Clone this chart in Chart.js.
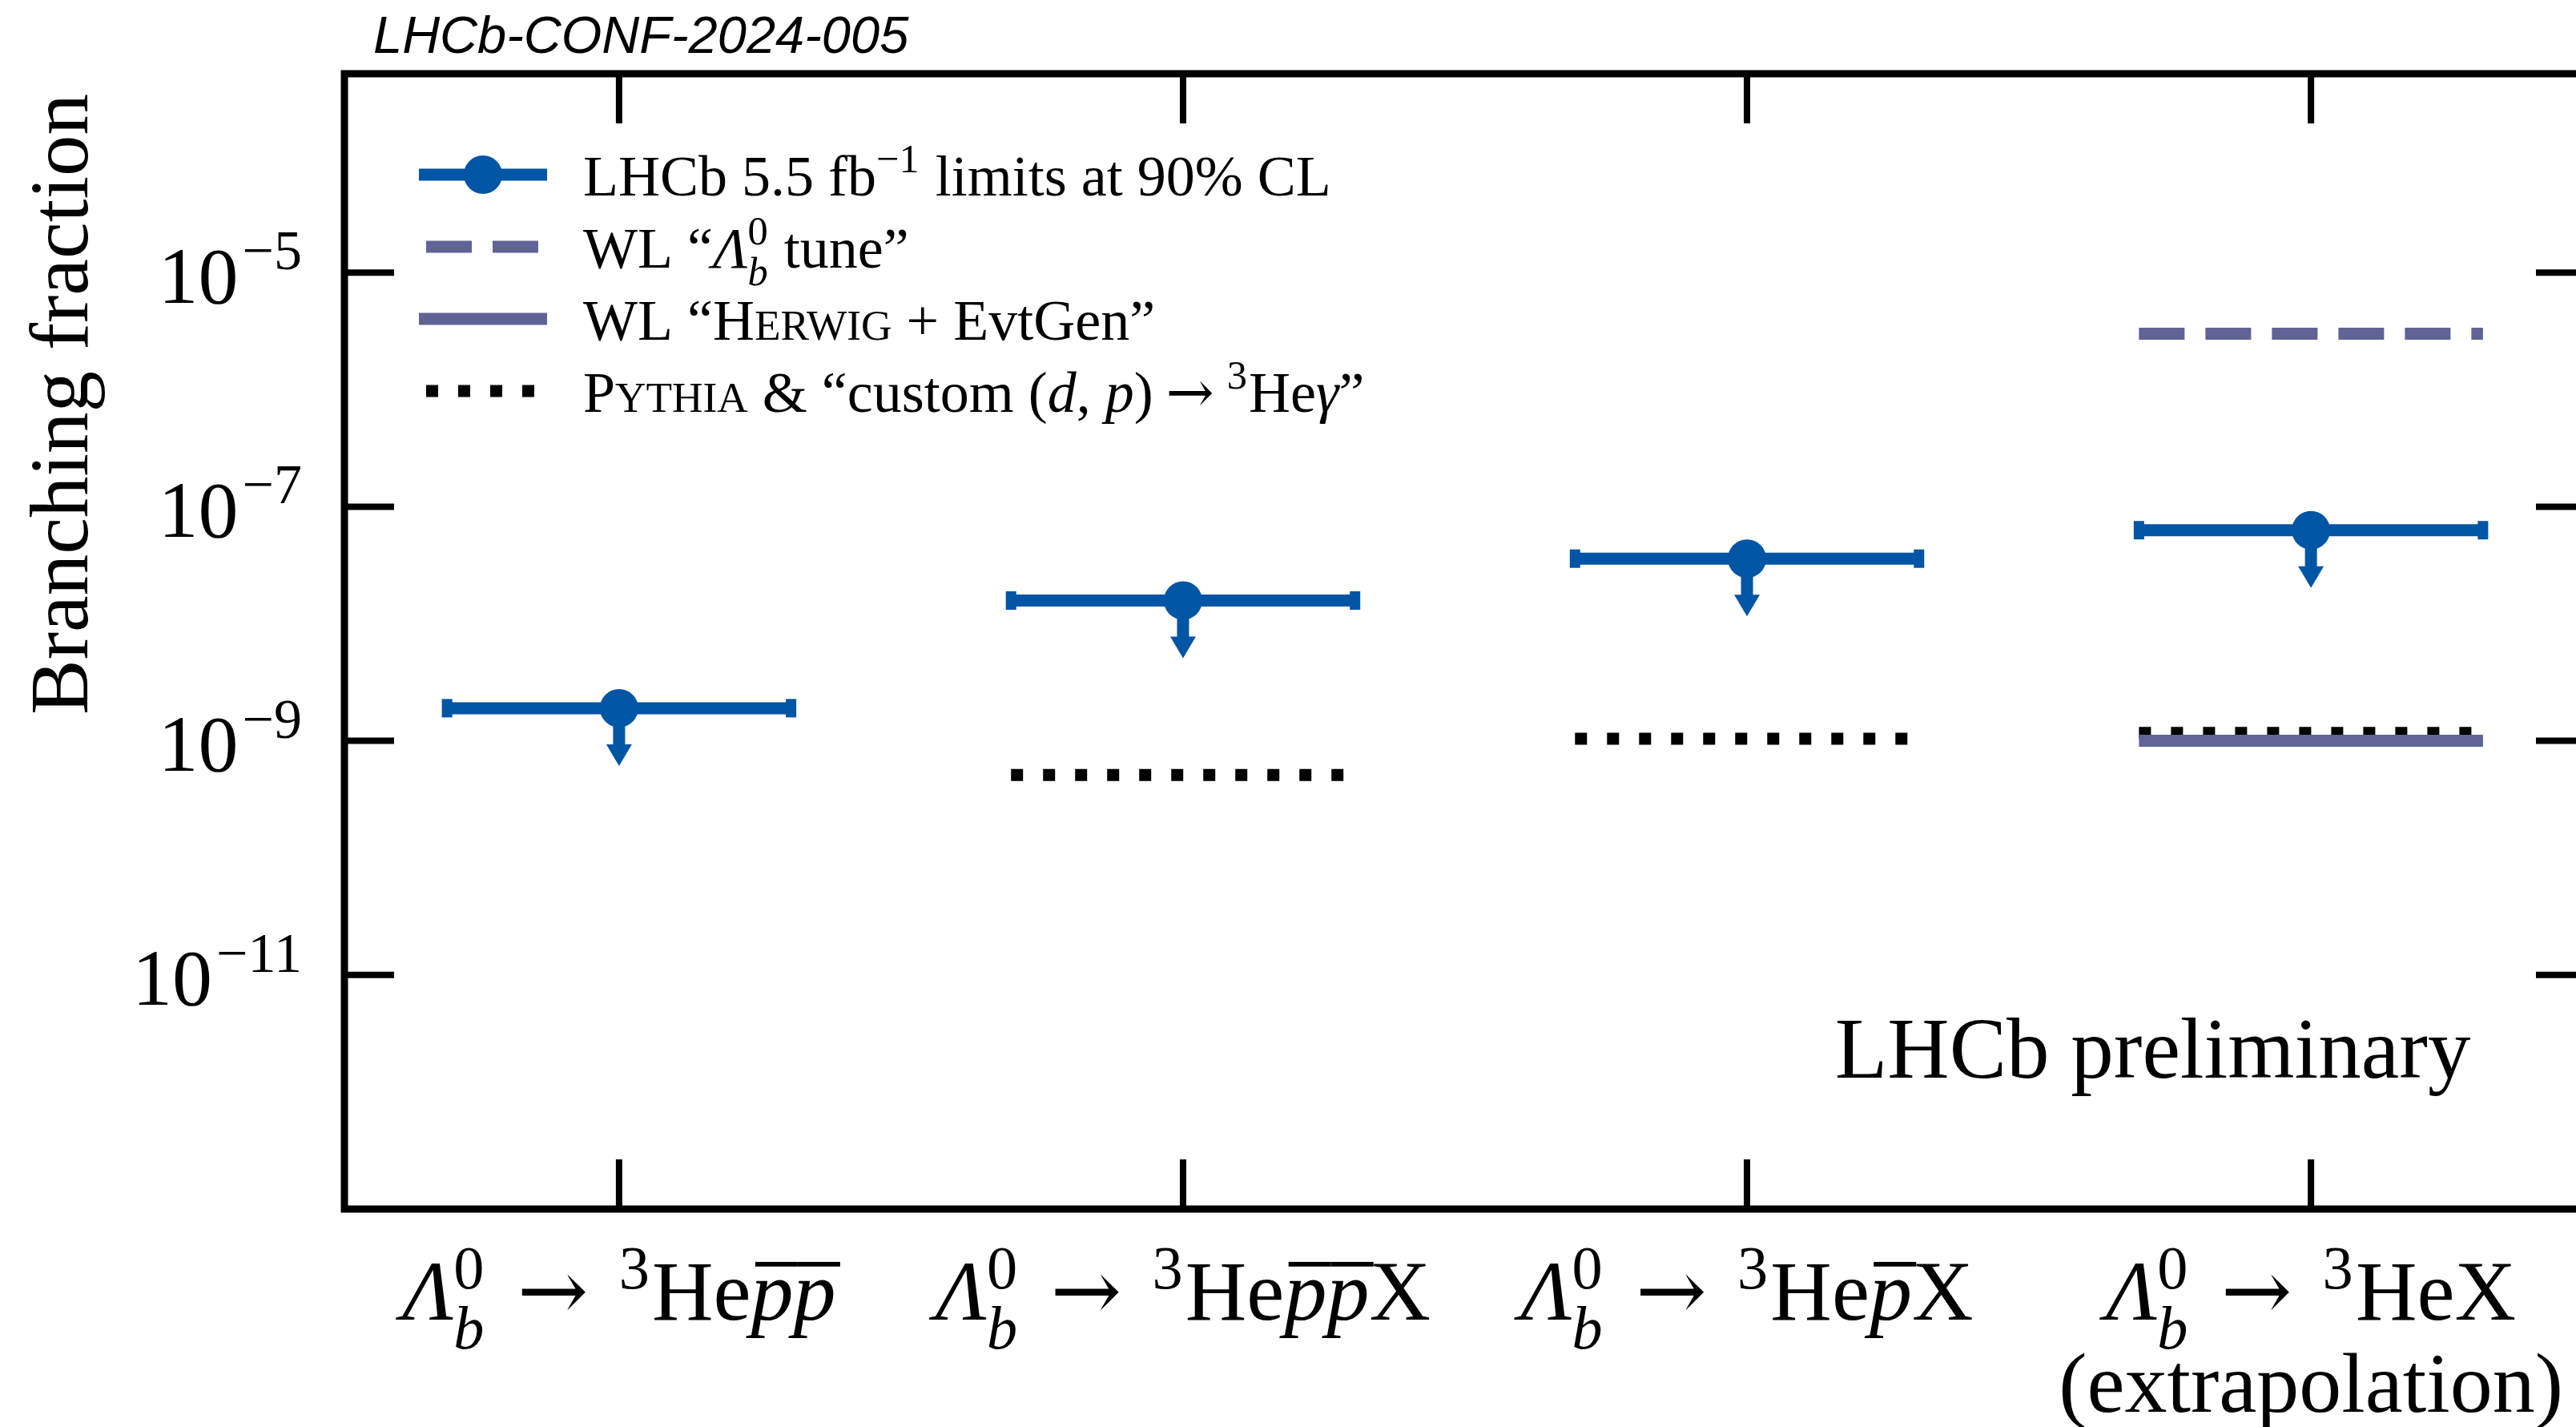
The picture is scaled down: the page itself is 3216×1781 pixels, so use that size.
<!doctype html>
<html>
<head>
<meta charset="utf-8">
<title>Lambda_b to 3He branching fraction limits</title>
<script src="https://cdn.jsdelivr.net/npm/chart.js@4.4.1/dist/chart.umd.min.js"></script>
<style>
  html, body { margin: 0; padding: 0; overflow: hidden; background: #fff; }
  canvas { display: block; }
</style>
</head>
<body>
<canvas id="bfChart" width="3260" height="1781" style="width:3260px;height:1781px"></canvas>
<script>
// --- data ---
const categories = ['Λb0 → 3He p̄p̄', 'Λb0 → 3He p̄p̄X', 'Λb0 → 3He p̄X', 'Λb0 → 3HeX (extrapolation)'];
const lhcbLimits   = [1.9e-9, 1.58e-8, 3.6e-8, 6.3e-8];   // LHCb 5.5 fb-1, 90% CL upper limits
const pythiaCustom = [null, 5.1e-10, 1.04e-9, 1.17e-9];   // Pythia & custom (d,p) -> 3He gamma
const wlTune       = [null, null, null, 3.0e-6];          // WL "Lambda_b tune"
const wlHerwig     = [null, null, null, 1.0e-9];          // WL "Herwig + EvtGen"
const yTickValues    = [1e-11, 1e-9, 1e-7, 1e-5];
const yTickExponents = ['−11', '−9', '−7', '−5'];

// rich tick labels for the categories (italic, sub/superscripts, overlines)
const lam = [{t: 'Λ', it: 1}, {sup: '0', sub: 'b'}, {gap: 0.36}, {arrow: 1}, {gap: 0.36}, {sup: '3'}, {t: 'He'}];
const pbar = {t: 'p', it: 1, ol: 1};
const xTickLabels = [
  [lam.concat([pbar, pbar])],
  [lam.concat([pbar, pbar, {t: 'X'}])],
  [lam.concat([pbar, {t: 'X'}])],
  [lam.concat([{t: 'X'}]), [{t: '(extrapolation)'}]]
];

const BLUE = '#0055a4';
const PURPLE = '#5f6396';
const SERIF = '"Liberation Serif", "Times New Roman", serif';
const ARROWF = '"DejaVu Serif", serif';
const SANS = '"Liberation Sans", Arial, sans-serif';
const HALF = 0.305;

function segments(values, withMarks) {
  const pts = [];
  values.forEach((v, i) => {
    if (v === null) return;
    pts.push({x: i - HALF, y: v, k: 'cap'});
    if (withMarks) pts.push({x: i, y: v, k: 'mark'});
    pts.push({x: i + HALF, y: v, k: 'cap'});
    pts.push({x: i + 0.5, y: null});
  });
  return pts;
}

function font(size, italic, fam) {
  return (italic ? 'italic ' : '') + size.toFixed(1) + 'px ' + fam;
}

// lay out a list of text runs: plain, italic, small caps, stacked sup/sub, overline, arrow, gap
function layout(ctx, runs, size, fam, o) {
  o = Object.assign({small: 0.7, supRaise: 0.42, subDrop: 0.3}, o || {});
  const items = [];
  let w = 0;
  const s = size * o.small;
  for (const r of runs) {
    if (r.gap !== undefined) {
      w += r.gap * size;
    } else if (r.arrow) {
      ctx.font = font(size, false, ARROWF);
      items.push({text: '→', font: ctx.font, x: w, dy: 0});
      w += ctx.measureText('→').width;
    } else if (r.sup !== undefined || r.sub !== undefined) {
      let adv = 0;
      if (r.sup !== undefined) {
        ctx.font = font(s, false, fam);
        items.push({text: r.sup, font: ctx.font, x: w, dy: -size * o.supRaise});
        adv = Math.max(adv, ctx.measureText(r.sup).width);
      }
      if (r.sub !== undefined) {
        ctx.font = font(s, true, fam);
        items.push({text: r.sub, font: ctx.font, x: w, dy: size * o.subDrop});
        adv = Math.max(adv, ctx.measureText(r.sub).width);
      }
      w += adv + size * 0.03;
    } else if (r.sc !== undefined) {
      ctx.font = font(size * 0.74, false, fam);
      items.push({text: r.sc, font: ctx.font, x: w, dy: 0});
      w += ctx.measureText(r.sc).width;
    } else {
      ctx.font = font(size, r.it, fam);
      const tw = ctx.measureText(r.t).width;
      items.push({text: r.t, font: ctx.font, x: w, dy: 0, ol: r.ol ? tw : 0, size: size});
      w += tw;
    }
  }
  return {width: w, items: items};
}

function drawRuns(ctx, runs, x, y, size, fam, align, o) {
  const lay = layout(ctx, runs, size, fam, o);
  let x0 = x;
  if (align === 'center') x0 = x - lay.width / 2;
  if (align === 'right') x0 = x - lay.width;
  ctx.textAlign = 'left';
  ctx.textBaseline = 'alphabetic';
  for (const it of lay.items) {
    ctx.font = it.font;
    ctx.fillText(it.text, x0 + it.x, y + it.dy);
    if (it.ol) ctx.fillRect(x0 + it.x + it.size * 0.05, y - it.size * 0.68, it.ol, it.size * 0.055);
  }
}

// downward arrows under each upper limit
const limitArrows = {
  id: 'limitArrows',
  afterDatasetsDraw(chart) {
    const ctx = chart.ctx, xs = chart.scales.x, ys = chart.scales.y;
    ctx.save();
    ctx.fillStyle = BLUE;
    lhcbLimits.forEach((v, i) => {
      const px = xs.getPixelForValue(i), py = ys.getPixelForValue(v);
      ctx.fillRect(px - 7.5, py, 15, 47);
      ctx.beginPath();
      ctx.moveTo(px - 16, py + 45);
      ctx.lineTo(px + 16, py + 45);
      ctx.lineTo(px, py + 72);
      ctx.closePath();
      ctx.fill();
    });
    ctx.restore();
  }
};

// frame, inward ticks, labels, legend and annotations
const decorations = {
  id: 'decorations',
  afterDraw(chart) {
    const ctx = chart.ctx, a = chart.chartArea, xs = chart.scales.x, ys = chart.scales.y;
    const TL = 62;
    ctx.save();
    ctx.strokeStyle = '#000';
    ctx.fillStyle = '#000';
    ctx.lineWidth = 8;
    ctx.beginPath();
    categories.forEach((c, i) => {
      const px = xs.getPixelForValue(i);
      ctx.moveTo(px, a.top); ctx.lineTo(px, a.top + TL);
      ctx.moveTo(px, a.bottom); ctx.lineTo(px, a.bottom - TL);
    });
    yTickValues.forEach(v => {
      const py = ys.getPixelForValue(v);
      ctx.moveTo(a.left, py); ctx.lineTo(a.left + TL, py);
      ctx.moveTo(a.right, py); ctx.lineTo(a.right - TL, py);
    });
    ctx.stroke();
    ctx.lineWidth = 9;
    ctx.strokeRect(a.left, a.top, a.right - a.left, a.bottom - a.top);

    // y tick labels
    yTickValues.forEach((v, i) => {
      const py = ys.getPixelForValue(v);
      drawRuns(ctx, [{t: '10'}, {gap: 0.05}, {sup: yTickExponents[i]}], 380, py + 37.5, 100, SERIF, 'right', {supRaise: 0.415});
    });
    // x tick labels
    xTickLabels.forEach((lines, i) => {
      const px = xs.getPixelForValue(i);
      lines.forEach((runs, j) => {
        drawRuns(ctx, runs, px, 1647 + j * 115, 106, SERIF, 'center', {small: 0.72, supRaise: 0.37, subDrop: 0.34});
      });
    });
    // y axis title
    ctx.save();
    ctx.translate(109, 117);
    ctx.rotate(-Math.PI / 2);
    ctx.font = font(103, false, SERIF);
    ctx.textAlign = 'right';
    ctx.textBaseline = 'alphabetic';
    ctx.fillText('Branching fraction', 0, 0);
    ctx.restore();

    // annotations
    ctx.font = font(107, false, SERIF);
    ctx.textAlign = 'left';
    ctx.fillText('LHCb preliminary', 2291, 1345);
    ctx.font = font(65, true, SANS);
    ctx.fillText('LHCb-CONF-2024-005', 466, 66);

    // legend
    const hx0 = 523, hx1 = 683, tx = 728, rows = [218, 308, 398, 488], LS = 72;
    ctx.lineCap = 'butt';
    ctx.lineWidth = 15;
    ctx.strokeStyle = BLUE;
    ctx.beginPath(); ctx.moveTo(hx0, rows[0]); ctx.lineTo(hx1, rows[0]); ctx.stroke();
    ctx.fillStyle = BLUE;
    ctx.beginPath(); ctx.arc((hx0 + hx1) / 2, rows[0], 24, 0, Math.PI * 2); ctx.fill();
    ctx.strokeStyle = PURPLE;
    ctx.setLineDash([57, 26]);
    ctx.beginPath(); ctx.moveTo(hx0 + 9, rows[1]); ctx.lineTo(hx1, rows[1]); ctx.stroke();
    ctx.setLineDash([]);
    ctx.beginPath(); ctx.moveTo(hx0, rows[2]); ctx.lineTo(hx1, rows[2]); ctx.stroke();
    ctx.strokeStyle = '#000';
    ctx.setLineDash([15, 25]);
    ctx.beginPath(); ctx.moveTo(hx0 + 9, rows[3]); ctx.lineTo(hx1, rows[3]); ctx.stroke();
    ctx.setLineDash([]);

    ctx.fillStyle = '#000';
    const legendRuns = [
      [{t: 'LHCb 5.5 fb'}, {sup: '−1'}, {t: ' limits at 90% CL'}],
      [{t: 'WL “'}, {t: 'Λ', it: 1}, {sup: '0', sub: 'b'}, {t: ' tune”'}],
      [{t: 'WL “H'}, {sc: 'ERWIG'}, {t: ' + EvtGen”'}],
      [{t: 'P'}, {sc: 'YTHIA'}, {t: ' & “custom ('}, {t: 'd', it: 1}, {t: ', '}, {t: 'p', it: 1},
       {t: ')'}, {gap: 0.22}, {arrow: 1}, {gap: 0.22}, {sup: '3'}, {t: 'He'}, {t: 'γ', it: 1}, {t: '”'}]
    ];
    legendRuns.forEach((runs, i) => {
      drawRuns(ctx, runs, tx, rows[i] + 26, LS, SERIF, 'left', {supRaise: 0.4, subDrop: 0.3});
    });
    ctx.restore();
  }
};

const capOrMark = (c, mark, cap) => (c.raw && c.raw.k === 'mark') ? mark : cap;

new Chart(document.getElementById('bfChart'), {
  type: 'line',
  data: {
    datasets: [
      {
        label: 'LHCb 5.5 fb−1 limits at 90% CL',
        data: segments(lhcbLimits, true),
        borderColor: BLUE,
        borderWidth: 15,
        borderCapStyle: 'butt',
        pointStyle: c => capOrMark(c, 'circle', 'line'),
        pointRadius: c => capOrMark(c, 24, 11.5),
        pointRotation: 90,
        pointBorderWidth: c => capOrMark(c, 0, 13),
        pointBackgroundColor: BLUE,
        pointBorderColor: BLUE,
        order: 0
      },
      {
        label: 'WL “Herwig + EvtGen”',
        data: segments(wlHerwig, false),
        borderColor: PURPLE,
        borderWidth: 15,
        borderCapStyle: 'butt',
        pointRadius: 0,
        order: 1
      },
      {
        label: 'Pythia & “custom (d, p) → 3Heγ”',
        data: segments(pythiaCustom, false),
        borderColor: '#000',
        borderWidth: 15,
        borderCapStyle: 'butt',
        borderDash: [15, 25],
        pointRadius: 0,
        order: 2
      },
      {
        label: 'WL “Λb0 tune”',
        data: segments(wlTune, false),
        borderColor: PURPLE,
        borderWidth: 15,
        borderCapStyle: 'butt',
        borderDash: [57, 26],
        pointRadius: 0,
        order: 3
      }
    ]
  },
  options: {
    responsive: false,
    devicePixelRatio: 1,
    animation: false,
    layout: {padding: {left: 430, top: 92, right: 32, bottom: 272}},
    scales: {
      x: {type: 'linear', min: -0.487, max: 3.487, display: false},
      y: {type: 'logarithmic', min: 1e-13, max: 5e-4, display: false}
    },
    plugins: {legend: {display: false}, tooltip: {enabled: false}}
  },
  plugins: [limitArrows, decorations]
});
</script>
</body>
</html>
